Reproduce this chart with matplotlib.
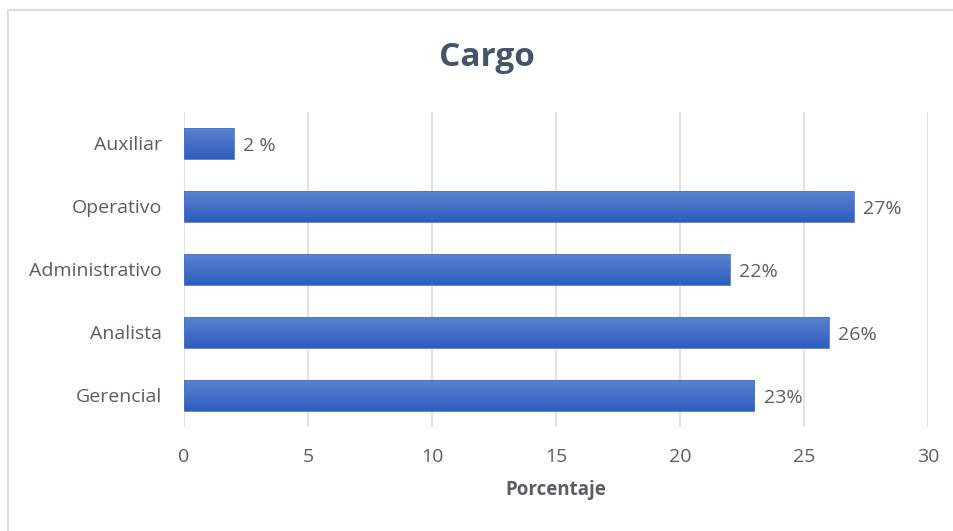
import numpy as np
import matplotlib.pyplot as plt
from matplotlib.colors import LinearSegmentedColormap
from matplotlib.patches import Rectangle

# data
categories = ["Gerencial", "Analista", "Administrativo", "Operativo", "Auxiliar"]
values = [23, 26, 22, 27, 2]
value_labels = ["23%", "26%", "22%", "27%", "2 %"]
xticks = [0, 5, 10, 15, 20, 25, 30]

plt.rcParams['font.family'] = ['Open Sans', 'DejaVu Sans']
text_color = "#595E66"

fig = plt.figure(figsize=(9.54, 5.31), dpi=100)
ax = fig.add_axes([0.1929, 0.1959, 0.7798, 0.5932])

# outer chart border (runs off the right and bottom edges)
fig.add_artist(Rectangle((8 / 954, -10 / 531), 960 / 954, 531 / 531,
                         transform=fig.transFigure, fill=False,
                         edgecolor="#D9DDE3", linewidth=1.5))

# gradient bars
cmap = LinearSegmentedColormap.from_list("bar", ["#2D5DBE", "#5B84D0"])
grad = np.linspace(0, 1, 64).reshape(-1, 1)
h = 0.5
for i, v in enumerate(values):
    rect = Rectangle((0, i - h / 2), v, h, facecolor="none", edgecolor="#4A74C8",
                     linewidth=0.6, zorder=3)
    ax.add_patch(rect)
    im = ax.imshow(grad, cmap=cmap, aspect="auto", origin="lower",
                   extent=[0, v, i - h / 2, i + h / 2], zorder=2)
    im.set_clip_path(rect)
    ax.text(v + 0.38, i - 0.04, value_labels[i], va="center", ha="left",
            fontsize=14, color=text_color)

ax.set_xlim(0, 30)
ax.set_ylim(-0.5, len(categories) - 0.5)
ax.set_yticks(range(len(categories)))
ax.set_yticklabels(categories)
ax.set_xticks(xticks)
ax.tick_params(axis="both", length=0, labelsize=14, labelcolor=text_color)
ax.tick_params(axis="y", pad=16)
ax.tick_params(axis="x", pad=15)
ax.grid(axis="x", color="#D9DDE3", linewidth=1.2, zorder=0)
ax.set_axisbelow(True)
for s in ax.spines.values():
    s.set_visible(False)

ax.set_xlabel("Porcentaje", fontsize=13.5, fontweight="bold", color=text_color, labelpad=10)
fig.text(487 / 954, 1 - 58 / 531, "Cargo", ha="center", va="center",
         fontsize=24, fontweight="bold", color="#44546A")

fig.savefig("out.png", dpi=100)
